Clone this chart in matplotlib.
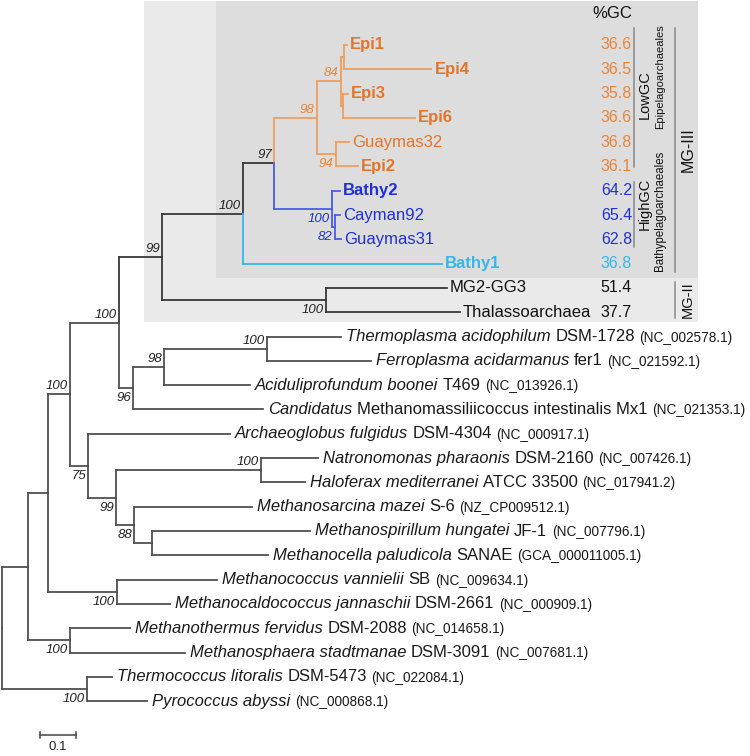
import matplotlib
matplotlib.use("Agg")
import matplotlib.pyplot as plt
from matplotlib.patches import Rectangle

# ---------------- data ----------------
tip_order = ['Epi1', 'Epi4', 'Epi3', 'Epi6', 'Guaymas32', 'Epi2', 'Bathy2', 'Cayman92',
             'Guaymas31', 'Bathy1', 'MG2-GG3', 'Thalassoarchaea', 'Thermoplasma',
             'Ferroplasma', 'Aciduliprofundum', 'Candidatus', 'Archaeoglobus',
             'Natronomonas', 'Haloferax', 'Methanosarcina', 'Methanospirillum',
             'Methanocella', 'Methanococcus', 'Methanocaldococcus', 'Methanothermus',
             'Methanosphaera', 'Thermococcus', 'Pyrococcus']

edge_child = ['N28', 'NTP', 'Thermococcus', 'Pyrococcus',
              'N48', 'NMT', 'Methanothermus', 'Methanosphaera',
              'N70', 'NMC', 'Methanococcus', 'Methanocaldococcus',
              'N119', 'N75', 'Archaeoglobus', 'N99b',
              'NHalo', 'N88', 'Natronomonas', 'Haloferax',
              'Methanosarcina', 'NMS', 'Methanospirillum', 'Methanocella',
              'N99', 'N96', 'N98', 'Candidatus',
              'NTF', 'Aciduliprofundum', 'Thermoplasma', 'Ferroplasma',
              'NMG3', 'NMG2', 'MG2-GG3', 'Thalassoarchaea',
              'N97', 'Bathy1', 'NOr', 'NBl',
              'N84', 'N94', 'NE14', 'NE36',
              'Epi1', 'Epi4', 'Epi3', 'Epi6',
              'Guaymas32', 'Epi2', 'Bathy2', 'NCG',
              'Cayman92', 'Guaymas31']
edge_parent = ['R', 'R', 'NTP', 'NTP',
               'N28', 'N28', 'NMT', 'NMT',
               'N48', 'N48', 'NMC', 'NMC',
               'N70', 'N70', 'N75', 'N75',
               'N99b', 'N99b', 'NHalo', 'NHalo',
               'N88', 'N88', 'NMS', 'NMS',
               'N119', 'N119', 'N96', 'N96',
               'N98', 'N98', 'NTF', 'NTF',
               'N99', 'N99', 'NMG2', 'NMG2',
               'NMG3', 'NMG3', 'N97', 'N97',
               'NOr', 'NOr', 'N84', 'N84',
               'NE14', 'NE14', 'NE36', 'NE36',
               'N94', 'N94', 'NBl', 'NBl',
               'NCG', 'NCG']
edge_length = [0.072, 0.236, 0.069, 0.167,
               0.056, 0.117, 0.167, 0.319,
               0.061, 0.192, 0.278, 0.147,
               0.136, 0.050, 0.394, 0.078,
               0.403, 0.050, 0.158, 0.122,
               0.328, 0.050, 0.439, 0.322,
               0.119, 0.039, 0.086, 0.361,
               0.286, 0.239, 0.206, 0.289,
               0.225, 0.456, 0.336, 0.372,
               0.086, 0.553, 0.119, 0.161,
               0.067, 0.053, 0.008, 0.006,
               0.008, 0.244, 0.014, 0.200,
               0.036, 0.061, 0.022, 0.008,
               0.014, 0.017]

boot_node = ['N70', 'N75', 'N99b', 'N88', 'NHalo', 'NMC', 'NMT', 'NTP', 'N119', 'N96',
             'N98', 'NTF', 'N99', 'NMG2', 'NMG3', 'N97', 'NOr', 'N84', 'N94', 'NBl', 'NCG']
boot_value = ['100', '75', '99', '88', '100', '100', '100', '100', '100', '96',
              '98', '100', '99', '100', '100', '97', '98', '84', '94', '100', '82']
boot_side = ['a', 'b', 'b', 'b', 'a', 'b', 'b', 'b', 'a', 'b',
             'a', 'a', 'a', 'b', 'a', 'a', 'a', 'a', 'b', 'b', 'b']

top_labels = ['Epi1', 'Epi4', 'Epi3', 'Epi6', 'Guaymas32', 'Epi2', 'Bathy2', 'Cayman92',
              'Guaymas31', 'Bathy1', 'MG2-GG3', 'Thalassoarchaea']
top_bold = [True, True, True, True, False, True, True, False, False, True, False, False]
gc_values = ['36.6', '36.5', '35.8', '36.6', '36.8', '36.1', '64.2', '65.4', '62.8',
             '36.8', '51.4', '37.7']

species_italic = ['Thermoplasma acidophilum', 'Ferroplasma acidarmanus', 'Aciduliprofundum boonei',
                  'Candidatus', 'Archaeoglobus fulgidus', 'Natronomonas pharaonis',
                  'Haloferax mediterranei', 'Methanosarcina mazei', 'Methanospirillum hungatei',
                  'Methanocella paludicola', 'Methanococcus vannielii',
                  'Methanocaldococcus jannaschii', 'Methanothermus fervidus',
                  'Methanosphaera stadtmanae', 'Thermococcus litoralis', 'Pyrococcus abyssi']
species_strain = ['DSM-1728', 'fer1', 'T469', 'Methanomassiliicoccus intestinalis Mx1',
                  'DSM-4304', 'DSM-2160', 'ATCC 33500', 'S-6', 'JF-1', 'SANAE', 'SB',
                  'DSM-2661', 'DSM-2088', 'DSM-3091', 'DSM-5473', '']
species_accession = ['(NC_002578.1)', '(NC_021592.1)', '(NC_013926.1)', '(NC_021353.1)',
                     '(NC_000917.1)', '(NC_007426.1)', '(NC_017941.2)', '(NZ_CP009512.1)',
                     '(NC_007796.1)', '(GCA_000011005.1)', '(NC_009634.1)', '(NC_000909.1)',
                     '(NC_014658.1)', '(NC_007681.1)', '(NC_022084.1)', '(NC_000868.1)']
scale_length = 0.1

# ---------------- styling ----------------
FONT = ['Liberation Sans', 'DejaVu Sans']
plt.rcParams['font.family'] = FONT
DARK = '#383838'
LOW = '#505050'
OR_LAB, OR_BR, OR_GC = '#E3742A', '#EC9E60', '#E8853A'
BL_LAB, BL_BR, BL_GC = '#1E30D6', '#4A5DE4', '#2233CC'
LB = '#36B6EA'

W, H, DPI = 750, 756, 100
PX_PER_UNIT = 360.0
X0_PX = 2.0
ROW0_PX, ROW_PX = 45.0, 24.3

fig = plt.figure(figsize=(W / DPI, H / DPI), dpi=DPI)
ax = fig.add_axes([0, 0, 1, 1])
ax.set_xlim(-X0_PX / PX_PER_UNIT, (W - X0_PX) / PX_PER_UNIT)
ax.set_ylim((H - ROW0_PX) / ROW_PX, -ROW0_PX / ROW_PX)
ax.axis('off')


def px_x(px):
    return (px - X0_PX) / PX_PER_UNIT


def px_y(py):
    return (py - ROW0_PX) / ROW_PX


def dx(px):
    return px / PX_PER_UNIT


def dy(py):
    return py / ROW_PX


# shaded boxes
ax.add_patch(Rectangle((px_x(144), px_y(1)), dx(698 - 144), dy(322 - 1),
                       facecolor='#eaeaea', edgecolor='none', zorder=0))
ax.add_patch(Rectangle((px_x(216), px_y(1)), dx(698 - 216), dy(278 - 1),
                       facecolor='#dddddd', edgecolor='none', zorder=0))

# ---------------- tree layout ----------------
parent_of = dict(zip(edge_child, edge_parent))
length_of = dict(zip(edge_child, edge_length))
children = {}
for c, p in zip(edge_child, edge_parent):
    children.setdefault(p, []).append(c)

xpos = {'R': 0.0}


def set_x(n):
    for c in children.get(n, []):
        xpos[c] = xpos[n] + length_of[c]
        set_x(c)


set_x('R')

ypos = {t: i for i, t in enumerate(tip_order)}


def get_y(n):
    if n in ypos:
        return ypos[n]
    ys = [get_y(c) for c in children[n]]
    ypos[n] = (min(ys) + max(ys)) / 2.0
    return ypos[n]


get_y('R')

clade_color = {'NOr': OR_BR, 'NBl': BL_BR, 'Bathy1': LB}


def in_clade(n, root):
    while True:
        if n == root:
            return True
        if n not in parent_of:
            return False
        n = parent_of[n]


def color_of(n):
    m = n
    while m in parent_of:
        if m in clade_color:
            return clade_color[m]
        m = parent_of[m]
    return DARK if in_clade(n, 'N99') else LOW


for c, p in zip(edge_child, edge_parent):
    col = color_of(c)
    ax.plot([xpos[p], xpos[c]], [ypos[c], ypos[c]], color=col, lw=1.3,
            solid_capstyle='projecting', zorder=2)
    ax.plot([xpos[p], xpos[p]], [ypos[p], ypos[c]], color=col, lw=1.3,
            solid_capstyle='projecting', zorder=2)

# bootstrap values
for n, v, s in zip(boot_node, boot_value, boot_side):
    col = color_of(n)
    if col == OR_BR:
        col = OR_GC
    elif col == BL_BR:
        col = BL_LAB
    else:
        col = '#222222'
    if s == 'a':
        ax.text(xpos[n] - dx(2), ypos[n] - dy(2), v, ha='right', va='bottom',
                fontsize=9.5, style='italic', color=col, zorder=3)
    else:
        ax.text(xpos[n] - dx(2), ypos[n] + dy(4), v, ha='right', va='top',
                fontsize=9.5, style='italic', color=col, zorder=3)

# top-group tip labels and GC values
top_colors = [OR_LAB] * 6 + [BL_LAB] * 3 + [LB] + ['#111111'] * 2
gc_colors = [OR_GC] * 6 + [BL_GC] * 3 + [LB] + ['#111111'] * 2
for i, (lab, b) in enumerate(zip(top_labels, top_bold)):
    ax.text(xpos[tip_order[i]] + dx(3), ypos[tip_order[i]], lab, ha='left', va='center',
            fontsize=12, fontweight='bold' if b else 'normal', color=top_colors[i], zorder=3)
    ax.text(px_x(632), ypos[tip_order[i]], gc_values[i], ha='right', va='center',
            fontsize=11.5, color=gc_colors[i], zorder=3)
ax.text(px_x(632), px_y(14), '%GC', ha='right', va='center', fontsize=12, color='#111111')

# lower tip labels (mixed styles)
fig.canvas.draw()
rend = fig.canvas.get_renderer()
inv = ax.transData.inverted()
for k, (it, st, acc) in enumerate(zip(species_italic, species_strain, species_accession)):
    tip = tip_order[12 + k]
    y = ypos[tip]
    x = xpos[tip] + dx(5)
    parts = [(it, 'italic', 12)]
    if st:
        parts.append((st, 'normal', 12))
    parts.append((acc, 'normal', 9.8))
    for txt, sty, fs in parts:
        yy = y + dy(1) if fs < 10 else y
        t = ax.text(x, yy, txt, ha='left', va='center',
                    fontsize=fs, style=sty, color='#1a1a1a', zorder=3)
        bb = t.get_window_extent(renderer=rend)
        x = inv.transform((bb.x1, 0))[0] + dx(4.5)

# right-hand brackets
BR = '#8a8a8a'
ax.plot([px_x(633.5)] * 2, [px_y(28), px_y(167)], color=BR, lw=1.1)
ax.plot([px_x(633.5)] * 2, [px_y(182), px_y(247)], color=BR, lw=1.1)
ax.plot([px_x(675)] * 2, [px_y(28), px_y(272)], color=BR, lw=1.1)
ax.plot([px_x(675)] * 2, [px_y(282), px_y(318)], color=BR, lw=1.1)
ax.text(px_x(645), px_y(95), 'LowGC', rotation=90, ha='center', va='center',
        fontsize=10.5, color='#111111')
ax.text(px_x(645), px_y(204), 'HighGC', rotation=90, ha='center', va='center',
        fontsize=10.5, color='#111111')
ax.text(px_x(660), px_y(77), 'Epipelagoarchaeales', rotation=90, ha='center', va='center',
        fontsize=8, color='#111111')
ax.text(px_x(660), px_y(211), 'Bathypelagoarchaeales', rotation=90, ha='center', va='center',
        fontsize=8.3, color='#111111')
ax.text(px_x(688), px_y(150), 'MG-III', rotation=90, ha='center', va='center',
        fontsize=11.5, color='#111111')
ax.text(px_x(688), px_y(300), 'MG-II', rotation=90, ha='center', va='center',
        fontsize=10.5, color='#111111')

# scale bar
sx0 = px_x(40)
sy = px_y(735)
ax.plot([sx0, sx0 + scale_length], [sy, sy], color='#444444', lw=1.1)
for xx in (sx0, sx0 + scale_length):
    ax.plot([xx, xx], [sy - dy(3.5), sy + dy(3.5)], color='#444444', lw=1.1)
ax.text(sx0 + scale_length / 2, px_y(747), '0.1', ha='center', va='center',
        fontsize=9.5, color='#222222')

fig.savefig('out.png', dpi=DPI)
